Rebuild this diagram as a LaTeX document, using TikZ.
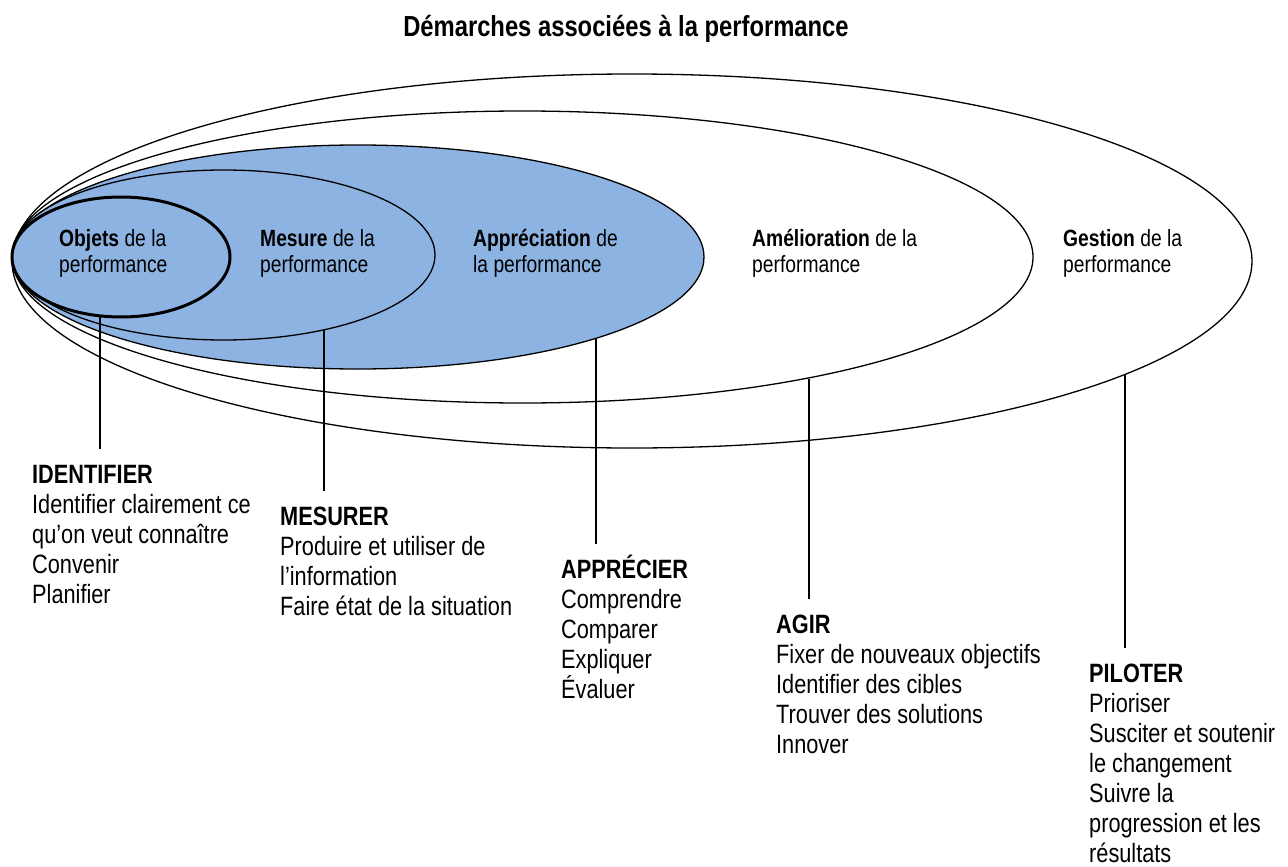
\documentclass[tikz,border=0pt]{standalone}
\usepackage{fontspec}
\setmainfont{Liberation Sans}[FakeStretch=0.82]
\usepackage{tikz}
\usetikzlibrary{shapes.geometric}
\usepackage{xcolor}
\definecolor{PerfBlue}{HTML}{8DB3E2}
\newcommand\ovlhead[1]{\rule{0pt}{22pt}\textbf{#1}}
\newcommand\stephead[1]{\rule{0pt}{26pt}\textbf{#1}}

\begin{document}
\begin{tikzpicture}[x=1pt,y=-1pt,
    ovl/.style={draw,ellipse,inner sep=0pt,line width=1.3pt},
    ovltext/.style={anchor=north west,align=left,inner sep=0pt,font=\fontsize{23.5}{26.5}\selectfont},
    steptext/.style={anchor=north west,align=left,inner sep=0pt,font=\fontsize{26.5}{30}\selectfont},
    link/.style={line width=2pt,shorten >=8pt}]
    \useasboundingbox (0,0) rectangle (1288,867);
    \node[font=\fontsize{29}{32}\selectfont\bfseries,anchor=base,inner sep=0pt] (titre) at (626,37) {Démarches associées à la performance};
    \node[ovl,fill=white,minimum width=1240pt,minimum height=374pt] (gestionE) at (632,261) {};
    \node[ovl,fill=white,minimum width=1021pt,minimum height=292pt] (amelioE) at (522.5,257) {};
    \node[ovl,fill=PerfBlue,minimum width=692pt,minimum height=224pt] (apprecE) at (358,257) {};
    \node[ovl,fill=PerfBlue,minimum width=423pt,minimum height=170pt] (mesureE) at (223.5,255) {};
    \node[ovl,fill=PerfBlue,line width=3pt,minimum width=218pt,minimum height=120pt] (objetsE) at (121,257) {};
    \node[ovltext] (objetsL) at (59,224) {\ovlhead{Objets} de la\\performance};
    \node[ovltext] (mesureL) at (260,224) {\ovlhead{Mesure} de la\\performance};
    \node[ovltext] (apprecL) at (473,224) {\ovlhead{Appréciation} de\\la performance};
    \node[ovltext] (amelioL) at (752,224) {\ovlhead{Amélioration} de la\\performance};
    \node[ovltext] (gestionL) at (1063,224) {\ovlhead{Gestion} de la\\performance};
    \node[steptext] (identifier) at (32,457) {\stephead{IDENTIFIER}\\Identifier clairement ce\\qu’on veut connaître\\Convenir\\Planifier};
    \node[steptext] (mesurer) at (280,499) {\stephead{MESURER}\\Produire et utiliser de\\l’information\\Faire état de la situation};
    \node[steptext] (apprecier) at (561,552) {\stephead{APPRÉCIER}\\Comprendre\\Comparer\\Expliquer\\Évaluer};
    \node[steptext] (agir) at (776,607) {\stephead{AGIR}\\Fixer de nouveaux objectifs\\Identifier des cibles\\Trouver des solutions\\Innover};
    \node[steptext] (piloter) at (1089,656) {\stephead{PILOTER}\\Prioriser\\Susciter et soutenir\\le changement\\Suivre la\\progression et les\\résultats};
    \draw[link] (objetsE.-109.6) -- (objetsE.-109.6 |- identifier.north);
    \draw[link] (mesureE.-37.4) -- (mesureE.-37.4 |- mesurer.north);
    \draw[link] (apprecE.-19.4) -- (apprecE.-19.4 |- apprecier.north);
    \draw[link] (amelioE.-23.6) -- (amelioE.-23.6 |- agir.north);
    \draw[link] (gestionE.-13) -- (gestionE.-13 |- piloter.north);
\end{tikzpicture}
\end{document}
